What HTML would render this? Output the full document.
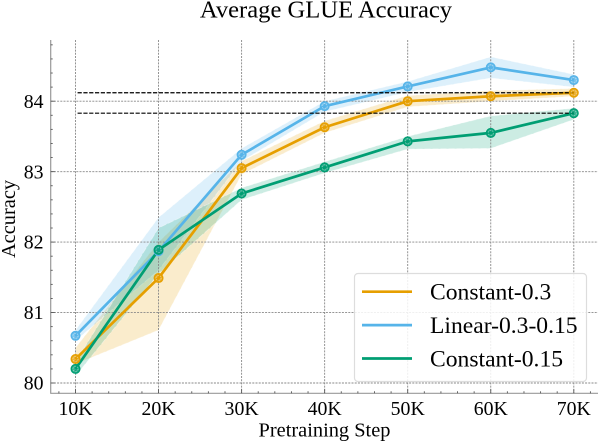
<!DOCTYPE html>
<html lang="en">
<head>
<meta charset="utf-8">
<title>Average GLUE Accuracy</title>
<style>
html,body{margin:0;padding:0;background:#fff;}
svg{display:block;font-family:"Liberation Serif","Times New Roman",serif;}
</style>
</head>
<body>
<svg id="chart" width="600" height="442" viewBox="0 0 600 442" xmlns="http://www.w3.org/2000/svg">
<rect width="600" height="442" fill="#fff"/>
<g id="bands"></g>
<g id="grid"></g>
<g id="lines"></g>
<g id="refs"></g>
<g id="markers"></g>
<g id="axes"></g>
<text x="326" y="17.5" text-anchor="middle" font-size="24.6" fill="#000">Average GLUE Accuracy</text>
<text x="324.5" y="436.5" text-anchor="middle" font-size="20.4" fill="#000">Pretraining Step</text>
<text transform="translate(15 219) rotate(-90)" text-anchor="middle" font-size="20.4" fill="#000">Accuracy</text>
<g id="legend"></g>
</svg>
<script>
var steps = [10, 20, 30, 40, 50, 60, 70];
var xTickLabels = ['10K', '20K', '30K', '40K', '50K', '60K', '70K'];
var yTicks = [80, 81, 82, 83, 84];
var seriesNames = ['Constant-0.3', 'Linear-0.3-0.15', 'Constant-0.15'];
var constant03 = [80.34, 81.49, 83.05, 83.63, 84.00, 84.07, 84.12];
var constant03Low = [80.27, 80.75, 82.96, 83.55, 83.92, 84.00, 84.07];
var constant03High = [80.50, 82.00, 83.15, 83.72, 84.08, 84.15, 84.18];
var linear = [80.67, 81.87, 83.24, 83.93, 84.21, 84.48, 84.30];
var linearLow = [80.60, 81.60, 83.15, 83.85, 84.13, 84.33, 84.20];
var linearHigh = [80.75, 82.35, 83.33, 84.00, 84.28, 84.63, 84.38];
var constant015 = [80.20, 81.89, 82.69, 83.06, 83.43, 83.55, 83.83];
var constant015Low = [80.10, 81.55, 82.60, 82.98, 83.32, 83.33, 83.74];
var constant015High = [80.30, 82.20, 82.77, 83.14, 83.50, 83.79, 83.90];
var referenceLevels = [84.12, 83.83];
var seriesColors = ['#E69F00', '#56B4E9', '#009E73'];

var NS = 'http://www.w3.org/2000/svg';
function xScale(v) { return 75.5 + (v - 10) * 8.305; }
function yScale(v) { return 383 - (v - 80) * 70.45; }
function make(tag, attrs, parent) {
  var el = document.createElementNS(NS, tag);
  for (var k in attrs) { el.setAttribute(k, attrs[k]); }
  parent.appendChild(el);
  return el;
}
var gridG = document.getElementById('grid');
var bandsG = document.getElementById('bands');
var linesG = document.getElementById('lines');
var refsG = document.getElementById('refs');
var markersG = document.getElementById('markers');
var axesG = document.getElementById('axes');
var legendG = document.getElementById('legend');

var AX_L = 50.7, AX_R = 598, AX_T = 40, AX_B = 393.3;

// grid lines
steps.forEach(function (s) {
  var line = make('line', {x1: xScale(s), x2: xScale(s), y1: AX_T, y2: AX_B, stroke: '#888', 'stroke-width': 0.9, 'stroke-dasharray': '2 1.2'}, gridG);
  
  
});
yTicks.forEach(function (t) {
  var line = make('line', {x1: AX_L, x2: AX_R, y1: yScale(t), y2: yScale(t), stroke: '#888', 'stroke-width': 0.9, 'stroke-dasharray': '2 1.2'}, gridG);
  
  
});

// series
var allMeans = [constant03, linear, constant015];
var allLows = [constant03Low, linearLow, constant015Low];
var allHighs = [constant03High, linearHigh, constant015High];
var keys = ['constant-0-3', 'linear-0-3-0-15', 'constant-0-15'];

allMeans.forEach(function (vals, i) {
  var up = steps.map(function (s, j) { return xScale(s) + ',' + yScale(allHighs[i][j]); });
  var down = steps.map(function (s, j) { return xScale(s) + ',' + yScale(allLows[i][j]); }).reverse();
  var band = make('polygon', {points: up.concat(down).join(' '), fill: seriesColors[i], 'fill-opacity': 0.2, stroke: '#fff', 'stroke-opacity': 0.45, 'stroke-width': 0.8, 'stroke-dasharray': '6 2'}, bandsG);
  
  

  var pts = steps.map(function (s, j) { return xScale(s) + ',' + yScale(vals[j]); }).join(' ');
  var line = make('polyline', {points: pts, fill: 'none', stroke: seriesColors[i], 'stroke-width': 2.7, 'stroke-linejoin': 'round'}, linesG);
  
  

  steps.forEach(function (s, j) {
    var dot = make('circle', {cx: xScale(s), cy: yScale(vals[j]), r: 4.3, fill: seriesColors[i], 'fill-opacity': 0.8, stroke: seriesColors[i], 'stroke-width': 1.4}, markersG);
    
    
    var ring = make('circle', {cx: xScale(s), cy: yScale(vals[j]), r: 2.6, fill: 'none', stroke: '#fff', 'stroke-opacity': 0.5, 'stroke-width': 0.7, 'stroke-dasharray': '1.5 1.2'}, markersG);
    
    
  });
});

// reference lines
referenceLevels.forEach(function (lvl) {
  var line = make('line', {x1: xScale(10.25), x2: xScale(70), y1: yScale(lvl), y2: yScale(lvl), stroke: '#000', 'stroke-width': 1.2, 'stroke-dasharray': '4.2 1.6'}, refsG);
  
  
});

// axes
var leftSpine = make('line', {x1: AX_L, x2: AX_L, y1: AX_T, y2: AX_B + 0.5, stroke: '#999', 'stroke-width': 1.2}, axesG);


var bottomSpine = make('line', {x1: AX_L, x2: AX_R, y1: AX_B, y2: AX_B, stroke: '#999', 'stroke-width': 1.2}, axesG);



// y ticks
for (var tenth = 798; tenth <= 848; tenth += 2) {
  var yv = tenth / 10;
  var py = yScale(yv);
  if (py > AX_B || py < AX_T) { continue; }
  var majorY = tenth % 10 === 0;
  var ty = make('line', {x1: AX_L, x2: AX_L + (majorY ? 4 : 2), y1: py, y2: py, stroke: '#555', 'stroke-width': 0.9}, axesG);
  
  
}
yTicks.forEach(function (t) {
  var lab = make('text', {x: 43.5, y: yScale(t) + 6.6, 'text-anchor': 'end', 'font-size': 19.8, fill: '#000'}, axesG);
  
  
  lab.textContent = String(t);
});

// x ticks
for (var k2 = 6; k2 <= 73; k2 += 2) {
  var px = xScale(k2);
  if (px < AX_L || px > AX_R) { continue; }
  var majorX = k2 % 10 === 0;
  var tx = make('line', {x1: px, x2: px, y1: AX_B, y2: AX_B - (majorX ? 4 : 2), stroke: '#555', 'stroke-width': 0.9}, axesG);
  
  
}
steps.forEach(function (s, i) {
  var lab = make('text', {x: xScale(s), y: 415, 'text-anchor': 'middle', 'font-size': 19.8, fill: '#000'}, axesG);
  
  
  lab.textContent = xTickLabels[i];
});

// legend
var legendBox = make('rect', {x: 354.5, y: 273.5, width: 232, height: 108, rx: 3.5, fill: '#fff', 'fill-opacity': 0.85, stroke: '#ddd', 'stroke-width': 1.2}, legendG);


seriesNames.forEach(function (name, i) {
  var ly = 291.7 + i * 33.4;
  var sw = make('line', {x1: 362, x2: 412, y1: ly, y2: ly, stroke: seriesColors[i], 'stroke-width': 2.7}, legendG);
  
  
  var lab = make('text', {x: 430, y: ly + 8, 'font-size': 23.6, fill: '#000'}, legendG);
  
  
  lab.textContent = name;
});
</script>
</body>
</html>
